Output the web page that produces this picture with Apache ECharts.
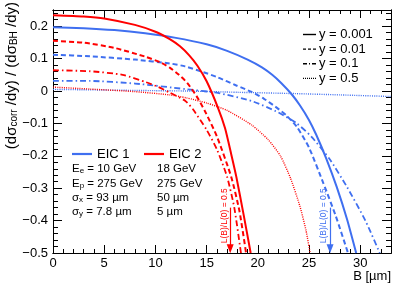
<!DOCTYPE html>
<html><head><meta charset="utf-8">
<script src="https://cdn.jsdelivr.net/npm/echarts@6/dist/echarts.min.js"></script>
<style>html,body{margin:0;padding:0;background:#fff}#c{width:399px;height:288px}</style>
</head><body><div id="c"></div>
<script>
// ---- data ----
const eic1_y0001 = [[0,0.197],[3,0.194],[6,0.188],[9,0.178],[12,0.164],[15,0.144],[17,0.124],[19,0.097],[20.4,0.073],[21.4,0.05],[22.3,0.024],[23.3,-0.01],[24.1,-0.044],[25,-0.09],[25.7,-0.135],[26.7,-0.21],[27.7,-0.296],[28.7,-0.395],[29.6,-0.5]];
const eic1_y001 = [[0,0.112],[3.6,0.107],[8,0.097],[11.4,0.085],[12.9,0.076],[14.7,0.058],[16.1,0.042],[17.9,0.017],[19.4,-0.003],[20.6,-0.024],[21.7,-0.048],[22.8,-0.076],[23.8,-0.11],[25,-0.175],[26.4,-0.285],[27.6,-0.385],[28.8,-0.5]];
const eic1_y01 = [[0,0.031],[3.6,0.031],[8,0.023],[12.9,0.006],[16.1,-0.006],[19.4,-0.031],[22,-0.066],[23.8,-0.1],[25.2,-0.14],[27,-0.21],[28.7,-0.296],[30.5,-0.4],[31.9,-0.5]];
const eic1_y05 = [[0,0.005],[10,0.001],[13,0.0],[18,-0.004],[23.6,-0.008],[28,-0.012],[33,-0.017]];
const eic2_y0001 = [[0,0.234],[3,0.230],[5,0.224],[8,0.204],[10,0.183],[11.4,0.160],[12.4,0.138],[13.3,0.11],[14.1,0.078],[15,0.03],[16.1,-0.051],[16.8,-0.115],[17.4,-0.195],[17.9,-0.265],[18.6,-0.38],[19.3,-0.5]];
const eic2_y001 = [[0,0.155],[3,0.149],[6,0.133],[9,0.106],[10.5,0.088],[11.4,0.072],[12.3,0.05],[13.1,0.025],[14,-0.015],[14.8,-0.06],[16,-0.14],[17.4,-0.265],[18.2,-0.37],[18.85,-0.5]];
const eic2_y01 = [[0,0.064],[3.6,0.061],[6.8,0.050],[9.1,0.027],[10.3,0.012],[11.4,-0.005],[12.9,-0.03],[13.7,-0.058],[15,-0.12],[16,-0.18],[17,-0.265],[17.7,-0.36],[18.35,-0.5]];
const eic2_y05 = [[0,0.012],[3.6,0.006],[8,-0.002],[11.4,-0.012],[13,-0.021],[15,-0.037],[17,-0.06],[19.4,-0.105],[21,-0.15],[22.2,-0.2],[23.2,-0.27],[24.1,-0.355],[24.7,-0.43],[25.1,-0.5]];
const lumiHalfB = [17.3, 27.05];      // L(B)/L(0) = 0.5 arrows (EIC2, EIC1)
const arrowTopY = -0.36, arrowTipY = -0.487;
const yLegend = ['y = 0.001','y = 0.01','y = 0.1','y = 0.5'];
const eicNames = ['EIC 1','EIC 2'];
const paramsEIC1 = ['E{s|e} = 10 GeV','E{s|p} = 275 GeV','σ{s|x} = 93 µm','σ{s|y} = 7.8 µm'];
const paramsEIC2 = ['18 GeV','275 GeV','50 µm','5 µm'];

// ---- style ----
const BLUE = '#3f6ff0', RED = '#ff0000';
const FONT = 'Liberation Sans, Arial, sans-serif';
const STY = {
  solid: {type:'solid', width:2},
  dashed: {type:[5,3], width:2},
  dashdot: {type:[6,3,1.5,3], width:1.8},
  dotted: {type:[1,1.2], width:1.4}
};
const X0=0, X1=33, Y0=-0.5, Y1=0.25;

function xAx(pos, interval, len, labels){
  return {type:'value', position:pos, min:X0, max:X1, interval:interval,
    axisLine:{show:true, onZero:false, lineStyle:{color:'#000', width:1}},
    axisTick:{show:true, inside:true, length:len, lineStyle:{color:'#000', width:1}},
    splitLine:{show:false},
    axisLabel:{show:labels, showMaxLabel:false, margin:4, color:'#000', fontSize:13, fontFamily:FONT}};
}
function yAx(pos, interval, len, labels){
  return {type:'value', position:pos, min:Y0, max:Y1, interval:interval,
    axisLine:{show:true, onZero:false, lineStyle:{color:'#000', width:1}},
    axisTick:{show:true, inside:true, length:len, lineStyle:{color:'#000', width:1}},
    splitLine:{show:false},
    axisLabel:{show:labels, showMaxLabel:false, margin:5, color:'#000', fontSize:13, fontFamily:FONT,
      formatter: v => Math.abs(v)<1e-9 ? '0' : (v<0?'\u2212':'') + Math.abs(v).toFixed(1)}};
}
function ser(data, color, st, extra){
  return Object.assign({type:'line', data:data, xAxisIndex:0, yAxisIndex:0, showSymbol:false,
    smooth:0.2,
    clip:true, silent:true, lineStyle:Object.assign({color:color}, st)}, extra||{});
}
function arrowMark(x, color){
  return {silent:true, symbol:['none','triangle'], symbolSize:[7,9],
    label:{show:false}, lineStyle:{color:color, width:1.2, type:'solid'},
    data:[[{coord:[x, arrowTopY]},{coord:[x, arrowTipY]}]]};
}

const chart = echarts.init(document.getElementById('c'), null, {renderer:'canvas'});
const option = {
  animation:false,
  backgroundColor:'#fff',
  grid:{left:53, right:8, top:10, bottom:35},
  xAxis:[xAx('bottom',5,8,true), xAx('bottom',1,4,false), xAx('top',5,8,false), xAx('top',1,4,false)],
  yAxis:[yAx('left',0.1,9,true), yAx('left',0.02,5,false), yAx('right',0.1,9,false), yAx('right',0.02,5,false)],
  series:[
    ser(eic1_y05, BLUE, STY.dotted),
    ser(eic2_y05, RED, STY.dotted),
    ser(eic1_y01, BLUE, STY.dashdot),
    ser(eic2_y01, RED, STY.dashdot),
    ser(eic1_y001, BLUE, STY.dashed),
    ser(eic2_y001, RED, STY.dashed),
    ser(eic1_y0001, BLUE, STY.solid, {markLine: arrowMark(lumiHalfB[1], BLUE)}),
    ser(eic2_y0001, RED, STY.solid, {markLine: arrowMark(lumiHalfB[0], RED)})
  ]
};
chart.setOption(option);

// ---- annotations ----
const g = [];
g.push({type:'text', x:12, y:2, rotation:Math.PI/2, style:{
  text:'(dσ{s|corr} /dy) / (dσ{s|BH} /dy)', align:'right', verticalAlign:'middle',
  fontSize:15, fontFamily:FONT, fill:'#000', rich:{s:{fontSize:10, verticalAlign:'bottom', lineHeight:8}}}});
g.push({type:'text', style:{x:391, y:276, text:'B [µm]', align:'right', verticalAlign:'middle', fontSize:13, fontFamily:FONT, fill:'#000'}});
// y legend
yLegend.forEach((t,i)=>{
  const yy = 34.5 + i*14.6;
  g.push({type:'line', shape:{x1:303, y1:yy, x2:316, y2:yy}, style:{stroke:'#000', lineWidth: i===3?1.2:1.4, lineDash: i===0?null:(i===1?[3,2]:(i===2?[4,2,1,2]:[1,1]))}});
  g.push({type:'text', style:{x:319, y:yy, text:t, align:'left', verticalAlign:'middle', fontSize:13, fontFamily:FONT, fill:'#000'}});
});
// EIC legend
[[72,BLUE],[144,RED]].forEach((p,i)=>{
  g.push({type:'line', shape:{x1:p[0], y1:154, x2:p[0]+20, y2:154}, style:{stroke:p[1], lineWidth:2.2}});
  g.push({type:'text', style:{x:p[0]+25, y:154, text:eicNames[i], align:'left', verticalAlign:'middle', fontSize:13, fontFamily:FONT, fill:'#000'}});
});
paramsEIC1.forEach((t,i)=>{
  const yy = 169 + i*14.4;
  g.push({type:'text', style:{x:72, y:yy, text:t, align:'left', verticalAlign:'middle', fontSize:11.5, fontFamily:FONT, fill:'#000', rich:{s:{fontSize:8, verticalAlign:'bottom', lineHeight:8}}}});
  g.push({type:'text', style:{x:157, y:yy, text:paramsEIC2[i], align:'left', verticalAlign:'middle', fontSize:11.5, fontFamily:FONT, fill:'#000'}});
});
// arrow labels
[[lumiHalfB[0],RED],[lumiHalfB[1],BLUE]].forEach(a=>{
  const p = chart.convertToPixel({xAxisIndex:0, yAxisIndex:0}, [a[0], -0.385]);
  g.push({type:'text', x:p[0]-6, y:p[1], rotation:Math.PI/2, style:{text:'L(B)/L(0) = 0.5', align:'center', verticalAlign:'middle', fontSize:8.5, fontFamily:FONT, fill:a[1]}});
});
chart.setOption({graphic:g});
</script></body></html>
